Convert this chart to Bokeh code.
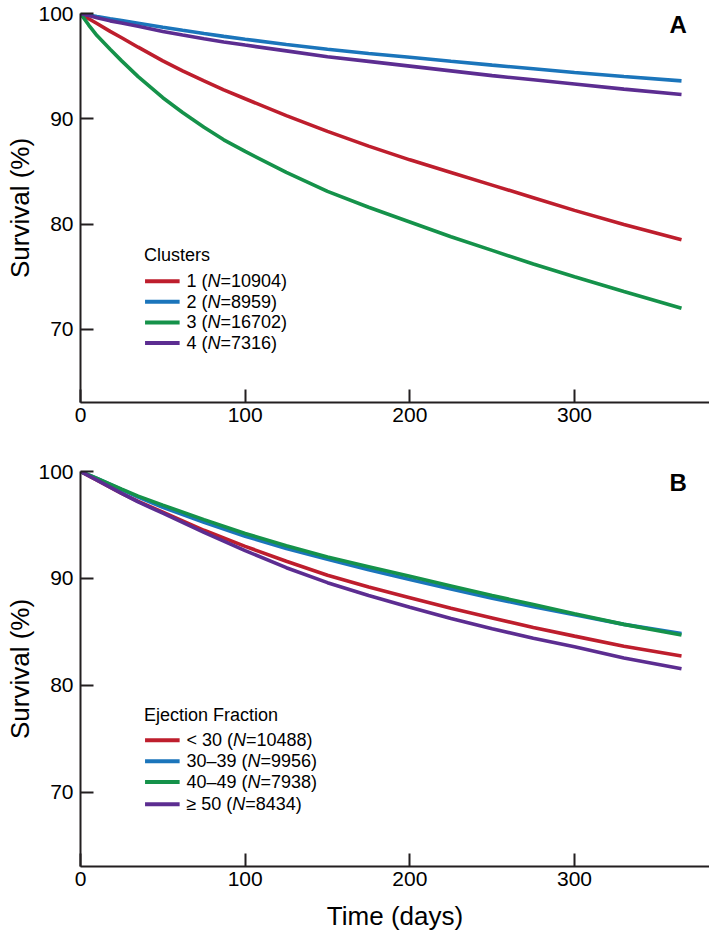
from bokeh.plotting import figure
from bokeh.models import Range1d, Label, FixedTicker
from bokeh.layouts import column
from bokeh.embed import file_html
from bokeh.resources import INLINE

# ---------------- data ----------------
# Panel A: clusters
days_a = [0, 5, 10, 18, 25, 35, 50, 62, 75, 87, 100, 125, 150, 175, 200, 225, 250, 275, 300, 330, 365]
cluster_names = ["1", "2", "3", "4"]
cluster_n = ["10904", "8959", "16702", "7316"]
surv_c1 = [100, 99.5, 99.05, 98.3, 97.7, 96.8, 95.5, 94.55, 93.6, 92.75, 91.9, 90.3, 88.8, 87.4,
           86.1, 84.9, 83.7, 82.5, 81.3, 79.95, 78.5]
surv_c2 = [100, 99.86, 99.72, 99.5, 99.33, 99.08, 98.7, 98.41, 98.1, 97.83, 97.55, 97.05, 96.6,
           96.2, 95.85, 95.47, 95.1, 94.75, 94.4, 94.02, 93.6]
surv_c3 = [100, 98.9, 97.9, 96.6, 95.5, 94.0, 92.0, 90.6, 89.2, 88.0, 86.9, 84.9, 83.1, 81.6,
           80.2, 78.8, 77.5, 76.2, 75.0, 73.6, 72.0]
surv_c4 = [100, 99.8, 99.6, 99.3, 99.1, 98.78, 98.3, 97.95, 97.6, 97.3, 97.0, 96.45, 95.9, 95.45,
           95.0, 94.55, 94.1, 93.7, 93.3, 92.82, 92.3]

# Panel B: ejection fraction
days_b = [0, 10, 25, 35, 50, 75, 100, 125, 150, 175, 200, 225, 250, 275, 300, 330, 365]
ef_names = ["< 30", "30\u201339", "40\u201349", "\u2265 50"]
ef_n = ["10488", "9956", "7938", "8434"]
surv_ef1 = [100, 99.2, 97.95, 97.2, 96.2, 94.5, 93.0, 91.6, 90.3, 89.2, 88.2, 87.2, 86.3, 85.4,
            84.6, 83.65, 82.75]
surv_ef2 = [100, 99.35, 98.3, 97.6, 96.65, 95.25, 93.95, 92.8, 91.8, 90.8, 89.9, 89.0, 88.15,
            87.35, 86.6, 85.7, 84.85]
surv_ef3 = [100, 99.35, 98.35, 97.7, 96.85, 95.5, 94.2, 93.05, 92.0, 91.1, 90.2, 89.3, 88.4,
            87.55, 86.7, 85.7, 84.7]
surv_ef4 = [100, 99.2, 97.95, 97.15, 96.1, 94.3, 92.6, 91.0, 89.6, 88.4, 87.3, 86.25, 85.3, 84.4,
            83.6, 82.55, 81.55]

x_ticks = [0, 100, 200, 300]
y_ticks = [70, 80, 90, 100]

colors = ["#be1e2d", "#1b75bb", "#15924a", "#5c2d91"]

FONT = "Liberation Sans"
AXIS_COLOR = "#231f20"


def make_panel(height, top, bottom, days, series, names, ns, title, letter, x_label, leg_y):
    p = figure(width=709, height=height, output_backend="svg", toolbar_location=None,
               x_range=Range1d(0, 382), y_range=Range1d(63.05, 100),
               min_border_left=80, min_border_right=0, min_border_top=top,
               min_border_bottom=bottom)
    p.outline_line_color = None
    p.grid.visible = False
    p.background_fill_color = "white"
    p.border_fill_color = "white"

    for ax in (p.xaxis, p.yaxis):
        ax.axis_line_color = AXIS_COLOR
        ax.axis_line_width = 2
        ax.major_tick_line_color = AXIS_COLOR
        ax.major_tick_line_width = 2
        ax.major_tick_in = 13
        ax.major_tick_out = 0
        ax.minor_tick_line_color = None
        ax.major_label_text_font = FONT
        ax.major_label_text_font_size = "21px"
        ax.major_label_text_color = "black"
        ax.axis_label_text_font = FONT
        ax.axis_label_text_font_size = "26px"
        ax.axis_label_text_font_style = "normal"
        ax.axis_label_text_color = "black"

    p.xaxis.ticker = FixedTicker(ticks=x_ticks)
    p.yaxis.ticker = FixedTicker(ticks=y_ticks)
    p.xaxis.major_label_standoff = 5
    p.yaxis.major_label_standoff = 7
    p.yaxis.axis_label = "Survival (%)"
    p.yaxis.axis_label_standoff = 0
    if x_label:
        p.xaxis.axis_label = x_label
        p.xaxis.axis_label_standoff = 12

    for ys, c in zip(series, colors):
        p.line(days, ys, line_color=c, line_width=3.6)

    # legend (layout constants in data units)
    lx0, lx1, tx = 39.2, 60.2, 64.3
    p.add_layout(Label(x=38.5, y=leg_y[0], text=title, text_font=FONT,
                       text_font_size="18px", text_baseline="middle",
                       text_align="left", text_color="black"))
    pre_w = {"1": 21.0, "2": 21.0, "3": 21.0, "4": 21.0,
             "< 30": 46.5, "30\u201339": 61.0, "40\u201349": 61.0, "\u2265 50": 45.9}
    for name, n, c, yy in zip(names, ns, colors, leg_y[1:]):
        p.segment(x0=[lx0], y0=[yy], x1=[lx1], y1=[yy], line_color=c, line_width=4)
        prefix = name + " ("
        w = pre_w[name]
        p.add_layout(Label(x=tx, y=yy, text=prefix, text_font=FONT, text_font_size="18px",
                           text_baseline="middle", text_align="left", text_color="black"))
        p.add_layout(Label(x=tx, y=yy, x_offset=w, text="N", text_font=FONT,
                           text_font_size="18px", text_font_style="italic",
                           text_baseline="middle", text_align="left", text_color="black"))
        p.add_layout(Label(x=tx, y=yy, x_offset=w + 13, text="=" + n + ")", text_font=FONT,
                           text_font_size="18px", text_baseline="middle",
                           text_align="left", text_color="black"))

    p.add_layout(Label(x=363, y=98.95, text=letter, text_font=FONT, text_font_size="24px",
                       text_font_style="bold", text_align="center",
                       text_baseline="middle", text_color="black"))
    return p


pA = make_panel(436, 13, 34, days_a, [surv_c1, surv_c2, surv_c3, surv_c4],
                cluster_names, cluster_n, "Clusters", "A", None,
                [77.05, 74.57, 72.63, 70.65, 68.7])
pB = make_panel(498, 35, 68, days_b, [surv_ef1, surv_ef2, surv_ef3, surv_ef4],
                ef_names, ef_n, "Ejection Fraction", "B", "Time (days)",
                [77.2, 74.86, 72.9, 70.96, 68.88])

layout = column(pA, pB)
open("out.html", "w").write(file_html(layout, INLINE))
